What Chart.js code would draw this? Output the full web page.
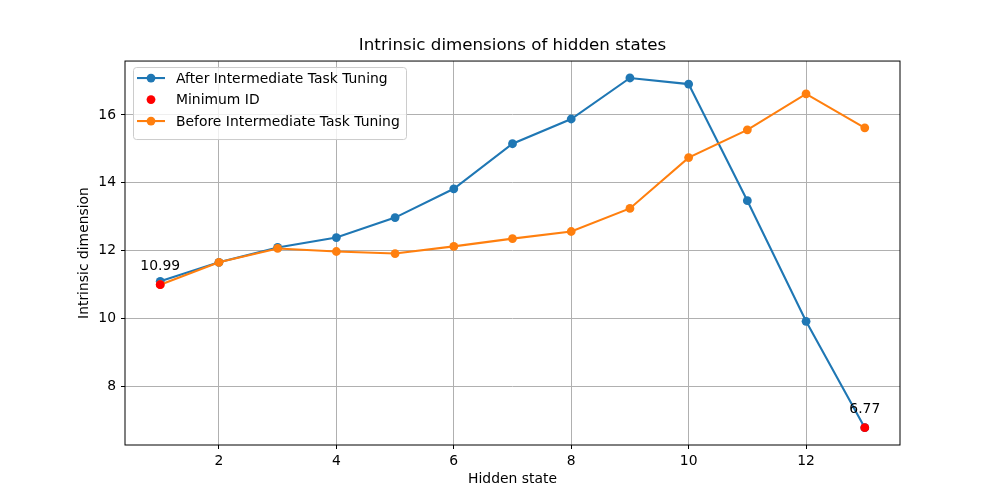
<!DOCTYPE html>
<html>
<head>
<meta charset="utf-8">
<script src="https://cdn.jsdelivr.net/npm/chart.js@4.4.0/dist/chart.umd.min.js"></script>
<style>
  html, body { margin: 0; padding: 0; background: #fff; }
</style>
</head>
<body>
<canvas id="idChart" width="1000" height="500"></canvas>
<script>
const hiddenStates = [1, 2, 3, 4, 5, 6, 7, 8, 9, 10, 11, 12, 13];
const afterTuning = [11.09, 11.65, 12.09, 12.38, 12.97, 13.82, 15.15, 15.88, 17.09, 16.91, 13.47, 9.91, 6.77];
const beforeTuning = [10.99, 11.65, 12.06, 11.97, 11.91, 12.12, 12.35, 12.56, 13.24, 14.74, 15.56, 16.62, 15.62];
const minimumX = [1, 13];
const minimumY = [10.99, 6.77];
const xTicks = [2, 4, 6, 8, 10, 12];
const yTicks = [8, 10, 12, 14, 16];

const FONT = "'DejaVu Sans', sans-serif";

// frame, inset legend and value labels
const decorations = {
  id: "decorations",
  afterDatasetsDraw(chart) {
    const { ctx, chartArea: a } = chart;
    const xs = chart.scales.x, ys = chart.scales.y;
    ctx.save();

    // value labels above minimum points
    ctx.font = "13.9px " + FONT;
    ctx.fillStyle = "#000";
    ctx.textAlign = "center";
    ctx.textBaseline = "middle";
    minimumX.forEach((x, i) => {
      ctx.fillText(minimumY[i].toFixed(2), xs.getPixelForValue(x), ys.getPixelForValue(minimumY[i]) - 18);
    });

    // legend box
    const lx = a.left + 8, ly = a.top + 6, lw = 273, lh = 72;
    ctx.beginPath();
    ctx.roundRect(lx + 0.5, ly + 0.5, lw, lh, 3);
    ctx.fillStyle = "rgba(255,255,255,0.8)";
    ctx.fill();
    ctx.strokeStyle = "#cccccc";
    ctx.lineWidth = 1;
    ctx.stroke();

    const items = chart.data.datasets;
    items.forEach((ds, i) => {
      const cy = ly + 11 + i * 21.5;
      if (ds.showLine !== false) {
        ctx.beginPath();
        ctx.moveTo(lx + 4, cy);
        ctx.lineTo(lx + 32, cy);
        ctx.strokeStyle = ds.borderColor;
        ctx.lineWidth = 2.1;
        ctx.stroke();
      }
      ctx.beginPath();
      ctx.arc(lx + 18, cy, 4.4, 0, Math.PI * 2);
      ctx.fillStyle = ds.pointBackgroundColor;
      ctx.fill();
      ctx.fillStyle = "#000";
      ctx.textAlign = "left";
      ctx.fillText(ds.label, lx + 43, cy + 1);
    });

    // axes frame
    ctx.strokeStyle = "#000";
    ctx.lineWidth = 1;
    ctx.strokeRect(a.left, a.top, a.right - a.left, a.bottom - a.top);
    ctx.restore();
  },
};

new Chart(document.getElementById("idChart"), {
  type: "line",
  data: {
    datasets: [
      {
        label: "After Intermediate Task Tuning",
        data: hiddenStates.map((x, i) => ({ x: x, y: afterTuning[i] })),
        borderColor: "#1f77b4",
        backgroundColor: "#1f77b4",
        pointBackgroundColor: "#1f77b4",
        pointBorderWidth: 0,
        pointRadius: 4.4,
        borderWidth: 2.1,
        tension: 0,
        order: 2,
      },
      {
        label: "Minimum ID",
        data: minimumX.map((x, i) => ({ x: x, y: minimumY[i] })),
        showLine: false,
        borderColor: "red",
        backgroundColor: "red",
        pointBackgroundColor: "red",
        pointBorderWidth: 0,
        pointRadius: 4.4,
        order: 0,
      },
      {
        label: "Before Intermediate Task Tuning",
        data: hiddenStates.map((x, i) => ({ x: x, y: beforeTuning[i] })),
        borderColor: "#ff7f0e",
        backgroundColor: "#ff7f0e",
        pointBackgroundColor: "#ff7f0e",
        pointBorderWidth: 0,
        pointRadius: 4.4,
        borderWidth: 2.1,
        tension: 0,
        order: 1,
      },
    ],
  },
  options: {
    responsive: false,
    animation: false,
    layout: { padding: { right: 100 } },
    plugins: {
      legend: { display: false },
      tooltip: { enabled: false },
      title: {
        display: true,
        fullSize: false,
        text: "Intrinsic dimensions of hidden states",
        color: "#000",
        font: { family: FONT, size: 16.7, weight: "normal" },
        padding: { top: 36, bottom: 5 },
      },
    },
    scales: {
      x: {
        type: "linear",
        min: 0.4,
        max: 13.6,
        afterFit: (scale) => { scale.height = 55; },
        afterBuildTicks: (scale) => { scale.ticks = xTicks.map((v) => ({ value: v })); },
        border: { display: false },
        grid: { color: "#b0b0b0", lineWidth: 1, tickColor: "#000", tickLength: 4 },
        ticks: { color: "#000", padding: 4, maxRotation: 0, font: { family: FONT, size: 13.9 } },
        title: {
          display: true,
          text: "Hidden state",
          color: "#000",
          font: { family: FONT, size: 13.9 },
          padding: { top: 0, bottom: 12 },
        },
      },
      y: {
        type: "linear",
        min: 6.26,
        max: 17.59,
        afterFit: (scale) => { scale.width = 125; },
        afterBuildTicks: (scale) => { scale.ticks = yTicks.map((v) => ({ value: v })); },
        border: { display: false },
        grid: { color: "#b0b0b0", lineWidth: 1, tickColor: "#000", tickLength: 4 },
        ticks: { color: "#000", padding: 5, font: { family: FONT, size: 13.9 } },
        title: {
          display: true,
          text: "Intrinsic dimension",
          color: "#000",
          font: { family: FONT, size: 13.9 },
          padding: { top: 76, bottom: 0 },
        },
      },
    },
  },
  plugins: [decorations],
});
</script>
</body>
</html>
